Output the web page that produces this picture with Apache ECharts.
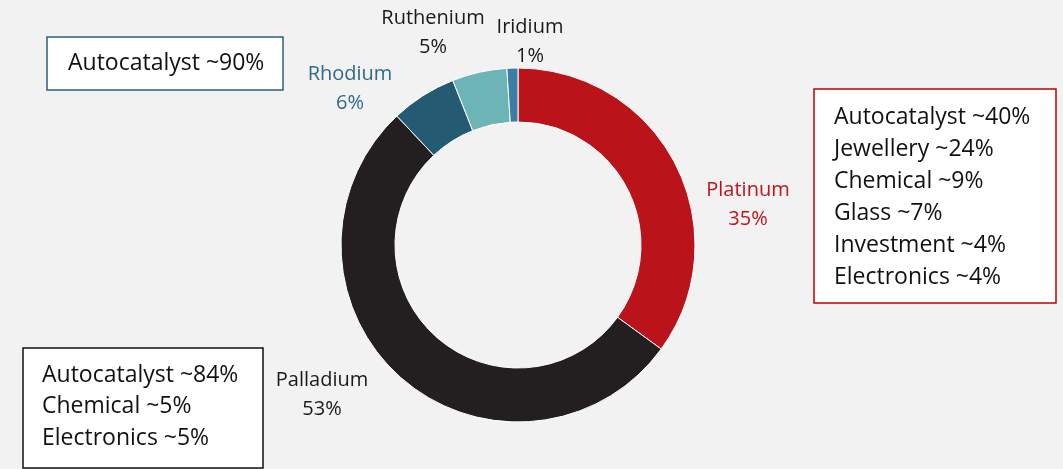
<!DOCTYPE html>
<html>
<head>
<meta charset="utf-8">
<script src="https://cdn.jsdelivr.net/npm/echarts@6/dist/echarts.min.js"></script>
<style>
  html, body { margin: 0; padding: 0; background: #f2f2f2; }
  #chart { width: 1063px; height: 469px; }
</style>
</head>
<body>
<div id="chart"></div>
<script>
const METALS = ["Platinum", "Palladium", "Rhodium", "Ruthenium", "Iridium"];
const SHARES = [35, 53, 6, 5, 1];

const RHODIUM_USES = ["Autocatalyst ~90%"];
const PLATINUM_USES = ["Autocatalyst ~40%", "Jewellery ~24%", "Chemical ~9%", "Glass ~7%", "Investment ~4%", "Electronics ~4%"];
const PALLADIUM_USES = ["Autocatalyst ~84%", "Chemical ~5%", "Electronics ~5%"];

const FONT = "'Open Sans', 'Noto Sans', sans-serif";

const SLICE_COLOR = {
  Platinum: "#ba141a",
  Palladium: "#231f20",
  Rhodium: "#245b73",
  Ruthenium: "#6cb4b6",
  Iridium: "#3a7ea6",
};
const LABEL_COLOR = {
  Platinum: "#c0141a",
  Rhodium: "#2e6b8a",
};
// label centres (px)
const LABEL_POS = {
  Platinum: [748, 205],
  Palladium: [322, 395],
  Rhodium: [350, 89],
  Ruthenium: [433, 33],
  Iridium: [530, 42],
};

function box(x, y, w, h, stroke, lines, tx, firstCenter, lh) {
  return {
    type: "group",
    children: [
      {
        type: "rect",
        shape: { x, y, width: w, height: h },
        style: { fill: "#ffffff", stroke, lineWidth: 1.5 },
      },
      {
        type: "text",
        x: tx,
        y: firstCenter - lh / 2,
        style: {
          text: lines.join("\n"),
          font: `23px ${FONT}`,
          fill: "#111111",
          lineHeight: lh,
          verticalAlign: "top",
        },
      },
    ],
  };
}

const chart = echarts.init(document.getElementById("chart"));
chart.setOption({
  backgroundColor: "#f2f2f2",
  animation: false,
  graphic: [
    box(47, 37, 236, 53, "#2e5f78", RHODIUM_USES, 68, 63, 32),
    box(814, 89, 242, 214, "#c00000", PLATINUM_USES, 834, 117, 32),
    box(23, 348, 240, 120, "#111111", PALLADIUM_USES, 42, 375, 31.5),
  ],
  series: [{
    type: "pie",
    center: [518, 245],
    radius: [123, 177],
    startAngle: 90,
    clockwise: true,
    avoidLabelOverlap: false,
    itemStyle: { borderColor: "#ffffff", borderWidth: 1 },
    label: {
      show: true,
      position: "outside",
      formatter: "{b}\n{c}%",
      fontFamily: FONT,
      fontSize: 20,
      lineHeight: 29,
      align: "center",
      color: "#1a1a1a",
    },
    labelLine: { show: false },
    labelLayout: p => {
      const pos = LABEL_POS[METALS[p.dataIndex]];
      return { x: pos[0], y: pos[1], align: "center", verticalAlign: "middle" };
    },
    emphasis: { disabled: true },
    data: METALS.map((name, i) => ({
      name,
      value: SHARES[i],
      itemStyle: { color: SLICE_COLOR[name] },
      label: { color: LABEL_COLOR[name] || "#1a1a1a" },
    })),
  }],
});
</script>
</body>
</html>
